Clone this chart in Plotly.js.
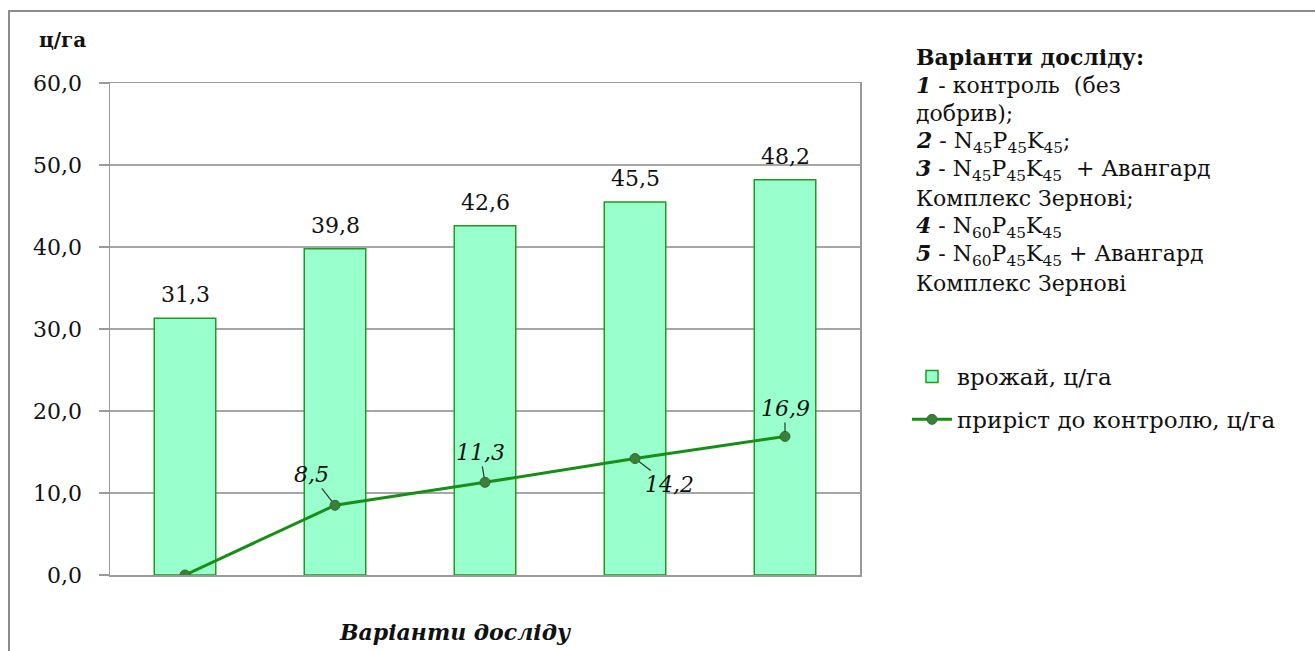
<!DOCTYPE html>
<html>
<head>
<meta charset="utf-8">
<script src="https://cdn.plot.ly/plotly-3.0.1.min.js"></script>
<style>
html, body { margin: 0; padding: 0; background: #fff; }
#chart { width: 1315px; height: 651px; }
</style>
</head>
<body>
<div id="chart"></div>
<script>
// ---- data ----
const categories = [1, 2, 3, 4, 5];
const yieldValues = [31.3, 39.8, 42.6, 45.5, 48.2];
const gainValues = [0, 8.5, 11.3, 14.2, 16.9];
const yTicks = [0, 10, 20, 30, 40, 50, 60];
const seriesNames = ['врожай, ц/га', 'приріст до контролю, ц/га'];
const notesTitle = 'Варіанти досліду:';
const notesLines = [
  '<b><i>1</i></b> - контроль  (без',
  'добрив);',
  '<b><i>2</i></b> - N<sub>45</sub>P<sub>45</sub>K<sub>45</sub>;',
  '<b><i>3</i></b> - N<sub>45</sub>P<sub>45</sub>K<sub>45</sub>  + Авангард',
  'Комплекс Зернові;',
  '<b><i>4</i></b> - N<sub>60</sub>P<sub>45</sub>K<sub>45</sub>',
  '<b><i>5</i></b> - N<sub>60</sub>P<sub>45</sub>K<sub>45</sub> + Авангард',
  'Комплекс Зернові'
];
const yTitle = 'ц/га';
const xTitle = 'Варіанти досліду';
// label offsets (px) for line point labels, index aligned with gainValues
const gainLabelOffsets = [null, [-24, -31], [-5, -30], [34, 26], [0, -28]];

const fmt = v => v.toFixed(1).replace('.', ',');
const FONT = 'DejaVu Serif, Liberation Serif, serif';
const FS = 22;

// plot area in pixels
const L = 110, R = 860, T = 83, B = 575;
const W = R - L, H = B - T;
const px = x => (x - L) / W;
const py = y => (B - y) / H;

const traces = [
  {
    type: 'bar',
    x: categories,
    y: yieldValues,
    name: seriesNames[0],
    legendgroup: 'a',
    marker: { color: '#99ffcc', line: { color: '#229a22', width: 1.5 } },
    hoverinfo: 'y'
  },
  {
    type: 'scatter',
    mode: 'lines+markers',
    x: categories,
    y: gainValues,
    name: seriesNames[1],
    legendgroup: 'b',
    line: { color: '#178f17', width: 3 },
    marker: { color: '#3b7f3b', size: 10, line: { color: '#2e6e2e', width: 1 } },
    hoverinfo: 'y'
  }
];

const annotations = [];
categories.forEach((c, i) => {
  annotations.push({
    x: c, y: yieldValues[i], xref: 'x', yref: 'y',
    text: fmt(yieldValues[i]), showarrow: false,
    xanchor: 'center', yanchor: 'bottom', yshift: 9,
    font: { family: FONT, size: FS, color: '#111' }
  });
  const off = gainLabelOffsets[i];
  if (off) {
    annotations.push({
      x: c, y: gainValues[i], xref: 'x', yref: 'y',
      text: '<i>' + fmt(gainValues[i]) + '</i>',
      showarrow: true, arrowhead: 0, arrowwidth: 1.2, arrowcolor: '#333',
      standoff: 5, ax: off[0], ay: off[1],
      font: { family: FONT, size: FS, color: '#111' }
    });
  }
});

// y-axis unit title
annotations.push({
  xref: 'paper', yref: 'paper', x: px(62), y: py(40),
  xanchor: 'center', yanchor: 'middle',
  text: '<b>' + yTitle + '</b>', showarrow: false,
  font: { family: FONT, size: 20, color: '#111' }
});
// x-axis title
annotations.push({
  xref: 'paper', yref: 'paper', x: px(455), y: py(632),
  xanchor: 'center', yanchor: 'middle',
  text: '<b><i>' + xTitle + '</i></b>', showarrow: false,
  font: { family: FONT, size: FS, color: '#111' }
});
// notes block
const noteYs = [85, 113, 142, 170, 199, 227, 255, 283];
annotations.push({
  xref: 'paper', yref: 'paper', x: px(914), y: py(57),
  xanchor: 'left', yanchor: 'middle',
  text: '<b>' + notesTitle + '</b>', showarrow: false,
  font: { family: FONT, size: FS, color: '#111' }
});
notesLines.forEach((t, i) => {
  annotations.push({
    xref: 'paper', yref: 'paper', x: px(914), y: py(noteYs[i]),
    xanchor: 'left', yanchor: 'middle', text: t, showarrow: false,
    font: { family: FONT, size: FS, color: '#111' }
  });
});

const layout = {
  width: 1315, height: 651,
  margin: { l: L, r: 1315 - R, t: T, b: 651 - B, pad: 0 },
  paper_bgcolor: '#ffffff', plot_bgcolor: '#ffffff',
  font: { family: FONT, size: FS, color: '#111' },
  separators: ',.',
  bargap: 0.59,
  showlegend: true,
  legend: {
    x: px(907), y: py(355), xanchor: 'left', yanchor: 'top',
    font: { family: FONT, size: 23, color: '#111' },
    tracegroupgap: 10, traceorder: 'grouped',
    bgcolor: 'rgba(0,0,0,0)', itemwidth: 40
  },
  xaxis: {
    type: 'linear', range: [0.5, 5.5],
    showticklabels: false, ticks: '', showgrid: false, zeroline: false,
    showline: true, linecolor: '#9a9a9a', linewidth: 1.5, mirror: true
  },
  yaxis: {
    range: [0, 60], tickvals: yTicks, tickformat: '.1f',
    showgrid: true, gridcolor: '#a6a6a6', gridwidth: 1.2, zeroline: false,
    showline: true, linecolor: '#9a9a9a', linewidth: 1.5, mirror: true,
    ticks: 'outside', ticklen: 10, tickcolor: '#9a9a9a', tickwidth: 1.5,
    ticklabelstandoff: 12,
    tickfont: { family: FONT, size: FS, color: '#111' }
  },
  annotations: annotations,
  shapes: [{
    type: 'path', xref: 'paper', yref: 'paper',
    path: 'M ' + px(9) + ' ' + py(700) + ' L ' + px(9) + ' ' + py(11) + ' L ' + px(1320) + ' ' + py(11),
    line: { color: '#8c8c8c', width: 2 }
  }]
};

Plotly.newPlot('chart', traces, layout, { displayModeBar: false, staticPlot: true });
</script>
</body>
</html>
